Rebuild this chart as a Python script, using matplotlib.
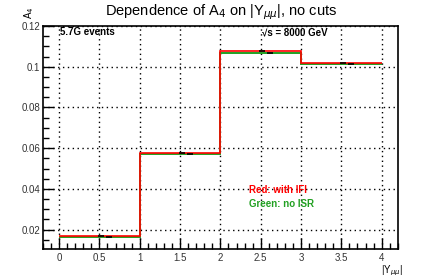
import matplotlib
matplotlib.use("Agg")
import matplotlib.pyplot as plt
from matplotlib.ticker import MultipleLocator

# bin edges in |Y_mumu| and A4 values per bin
bin_edges = [0.0, 1.0, 2.0, 3.0, 4.0]
a4_ifi = [0.0167, 0.0577, 0.1075, 0.1020]    # red: with IFI
a4_no_isr = [0.0166, 0.0574, 0.1068, 0.1015]  # green: no ISR
bin_centres = [0.5, 1.5, 2.5, 3.5]

plt.rcParams["font.family"] = ["Liberation Sans", "DejaVu Sans"]

fig = plt.figure(figsize=(4.43, 2.77), dpi=100)
ax = fig.add_axes([0.097, 0.101, 0.801, 0.805])

# histogram outlines
ax.stairs(a4_no_isr, bin_edges, color="#22a022", linewidth=1.4, baseline=None, zorder=3)
ax.stairs(a4_ifi, bin_edges, color="#ff0000", linewidth=1.2, baseline=None, zorder=4)

# small black markers at bin centres (error bars)
ax.plot([c + 0.02 for c in bin_centres], a4_ifi, marker="_", color="black",
        markersize=5, markeredgewidth=1.2, linestyle="none", zorder=5)
ax.plot([c + 0.12 for c in bin_centres], a4_no_isr, marker="_", color="black",
        markersize=5, markeredgewidth=1.2, linestyle="none", zorder=5)

ax.set_xlim(-0.2, 4.2)
ax.set_ylim(0.0105, 0.12)

ax.xaxis.set_minor_locator(MultipleLocator(0.1))
ax.yaxis.set_minor_locator(MultipleLocator(0.005))
ax.set_xticks([0, 0.5, 1, 1.5, 2, 2.5, 3, 3.5, 4])
ax.set_xticklabels(["0", "0.5", "1", "1.5", "2", "2.5", "3", "3.5", "4"])
ax.set_yticks([0.02, 0.04, 0.06, 0.08, 0.1, 0.12])
ax.set_yticklabels(["0.02", "0.04", "0.06", "0.08", "0.1", "0.12"])

ax.tick_params(axis="both", which="major", direction="in", length=8, width=1,
               labelsize=7, labelcolor="#333333", pad=3)
ax.tick_params(axis="both", which="minor", direction="in", length=4, width=1)
ax.tick_params(axis="y", which="major", pad=2)

for s in ax.spines.values():
    s.set_linewidth(1.2)

ax.grid(True, which="major", linestyle=(0, (1, 2.5)), color="black", linewidth=1.0)
ax.set_axisbelow(True)

fig.text(0.5, 0.955, r"Dependence of A$_{4}$ on |Y$_{\mu\mu}$|, no cuts",
         ha="center", va="center", fontsize=10.5)
fig.text(0.066, 0.955, r"A$_{4}$", rotation=90, ha="center", va="center", fontsize=7)
fig.text(0.885, 0.022, r"|Y$_{\mu\mu}$|", ha="center", va="center", fontsize=7)

ax.text(0.01, 0.117, "5.7G events", fontsize=7, fontweight="bold", va="center")
ax.text(2.52, 0.117, "\u221as = 8000 GeV", fontsize=7, fontweight="bold", va="center")
ax.text(2.35, 0.0395, "Red: with IFI", fontsize=7, fontweight="bold", color="#ff0000",
        va="center")
ax.text(2.35, 0.0325, "Green: no ISR", fontsize=7, fontweight="bold", color="#22a022",
        va="center")

fig.savefig("out.png", dpi=100)
